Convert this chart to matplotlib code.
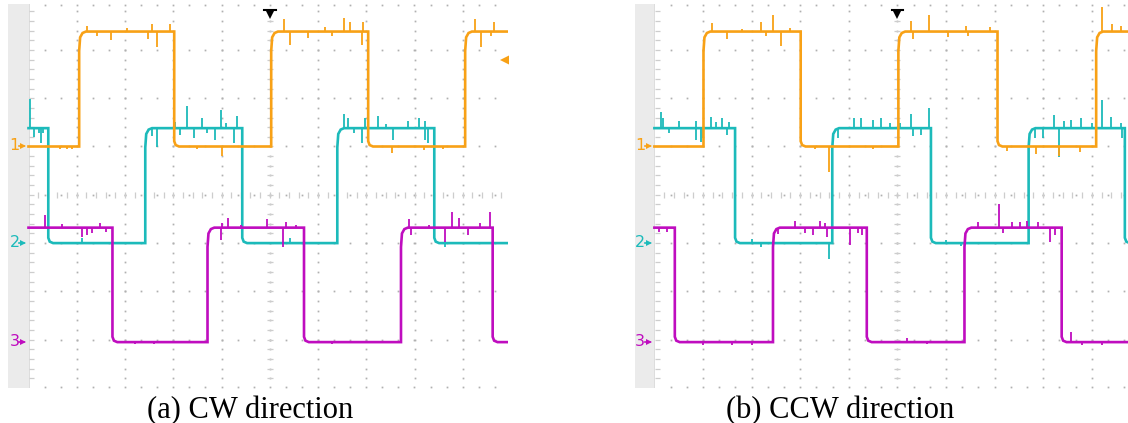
import numpy as np
import matplotlib
matplotlib.use("Agg")
import matplotlib.pyplot as plt

# ---------------- data (units: oscilloscope divisions) ----------------
# levels of the three channels
CH1_LEVELS = (5.0, 7.38)   # orange (low, high)
CH2_LEVELS = (3.0, 5.38)   # cyan
CH3_LEVELS = (0.95, 3.32)  # magenta

# (a) CW direction: start state and edge times
CW_CH1_START = 0
CW_CH1_EDGES = [1.05, 3.02, 5.03, 7.04, 9.05]
CW_CH2_START = 1
CW_CH2_EDGES = [0.41, 2.42, 4.43, 6.40, 8.41]
CW_CH3_START = 1
CW_CH3_EDGES = [1.74, 3.71, 5.71, 7.72, 9.62]

# (b) CCW direction
CCW_CH1_START = 0
CCW_CH1_EDGES = [1.01, 3.01, 5.02, 7.06, 9.09]
CCW_CH2_START = 1
CCW_CH2_EDGES = [1.66, 3.66, 5.69, 7.70, 9.68]
CCW_CH3_START = 1
CCW_CH3_EDGES = [0.42, 2.44, 4.37, 6.38, 8.38]

# noise spikes: (time, excursion)
CW_CH1_SPIKES = [(1.21, 0.12), (1.42, -0.10), (1.70, -0.17), (2.05, 0.08), (2.47, -0.15),
                 (2.56, 0.15), (2.66, -0.31), (2.94, 0.15), (5.29, 0.25), (5.42, -0.27),
                 (5.80, -0.13), (6.15, 0.10), (6.29, -0.10), (6.53, 0.29), (6.67, 0.20),
                 (6.91, -0.27), (6.93, 0.20), (9.25, 0.25), (9.38, -0.33), (9.59, -0.10),
                 (9.65, 0.20), (0.66, -0.05), (0.80, -0.06), (0.90, -0.05), (4.01, -0.20),
                 (3.50, -0.05), (7.53, -0.13), (8.20, -0.08), (8.60, -0.05)]
CW_CH2_SPIKES = [(0.04, 0.60), (0.11, -0.19), (0.21, -0.10), (0.25, -0.30), (0.30, -0.10),
                 (2.55, -0.15), (2.66, -0.40), (3.04, 0.12), (3.15, -0.15), (3.29, 0.46),
                 (3.42, -0.20), (3.60, 0.20), (3.70, -0.10), (3.87, -0.25), (3.98, 0.38),
                 (4.10, 0.10), (4.25, -0.30), (4.32, 0.25), (6.53, 0.30), (6.63, 0.22),
                 (6.75, -0.10), (6.91, -0.30), (6.98, 0.20), (7.25, 0.25), (7.40, 0.08),
                 (7.56, -0.25), (7.87, 0.15), (8.10, 0.20), (8.22, 0.15), (8.22, -0.25),
                 (8.29, -0.30), (1.11, 0.10), (5.42, 0.10), (8.63, -0.08)]
CW_CH3_SPIKES = [(0.35, 0.27), (0.70, 0.08), (1.11, -0.20), (1.21, -0.15), (1.32, -0.12),
                 (1.49, 0.10), (1.60, -0.10), (3.98, -0.25), (4.02, 0.10), (4.14, 0.19),
                 (4.40, 0.05), (4.94, 0.17), (5.27, -0.40), (5.33, 0.12), (5.55, 0.05),
                 (7.89, 0.17), (7.92, -0.15), (8.30, 0.05), (8.63, -0.30), (8.77, 0.33),
                 (8.93, 0.20), (9.10, -0.15), (9.35, 0.10), (9.57, 0.33),
                 (2.20, -0.04), (2.60, -0.04), (6.30, -0.04)]

CCW_CH1_SPIKES = [(1.18, 0.17), (1.50, -0.15), (1.80, 0.06), (2.20, 0.20), (2.30, -0.10),
                  (2.45, 0.35), (2.61, -0.30), (2.80, 0.08), (3.60, -0.52), (3.30, -0.05),
                  (4.50, -0.05), (5.28, 0.21), (5.33, -0.15), (5.65, 0.35), (6.05, -0.12),
                  (6.42, 0.12), (6.45, -0.10), (6.90, 0.10), (7.25, -0.10), (7.85, -0.15),
                  (8.32, -0.20), (8.75, -0.12), (9.22, 0.52), (9.42, 0.15), (9.60, 0.12)]
CCW_CH2_SPIKES = [(0.14, 0.33), (0.17, 0.20), (0.30, -0.10), (0.50, 0.15), (0.85, 0.15),
                  (0.86, -0.25), (0.96, -0.28), (1.00, -0.20), (1.16, 0.23), (1.27, 0.12),
                  (1.40, 0.20), (1.50, -0.15), (1.54, 0.12), (2.00, 0.08), (2.20, -0.08),
                  (3.60, -0.33), (3.78, -0.20), (4.10, 0.20), (4.25, 0.22), (4.50, 0.17),
                  (4.67, 0.22), (4.85, 0.10), (5.05, 0.10), (5.28, 0.30), (5.33, -0.17),
                  (5.48, -0.15), (5.64, 0.42), (6.00, 0.06), (6.30, -0.05), (7.83, -0.20),
                  (8.00, -0.20), (8.22, 0.27), (8.32, -0.60), (8.42, 0.15), (8.58, 0.17),
                  (8.78, 0.20), (9.00, 0.10), (9.20, 0.58), (9.40, 0.23), (9.60, 0.10),
                  (9.62, -0.20)]
CCW_CH3_SPIKES = [(0.10, -0.10), (0.25, -0.10), (2.55, -0.12), (2.90, 0.13), (3.10, -0.12),
                  (3.27, -0.15), (3.40, 0.13), (3.50, 0.10), (3.56, -0.20), (4.02, -0.35),
                  (4.18, -0.12), (4.27, -0.15), (1.00, -0.05), (1.60, -0.05), (2.00, -0.05),
                  (5.20, 0.08), (5.60, -0.04), (6.65, 0.12), (7.10, 0.48), (7.17, -0.12),
                  (7.35, 0.12), (7.52, 0.12), (7.66, 0.14), (7.90, 0.12), (8.14, -0.30),
                  (8.24, -0.15), (8.58, 0.20), (8.80, -0.05), (9.20, -0.05)]

CAPTIONS = ["(a) CW direction", "(b) CCW direction"]
CHANNEL_LABELS = ["1", "2", "3"]

# ---------------- style ----------------
ORANGE = "#f8a116"
CYAN = "#1cbaba"
MAGENTA = "#bf0dbf"
GRID = "#b0b0b0"
TICK = "#cdcdcd"
STRIP = "#ebebeb"

W, H = 1128, 423
fig = plt.figure(figsize=(W / 100, H / 100), dpi=100)
fig.patch.set_facecolor("white")

RISE = [(0.0, -0.40), (0.02, -0.12), (0.07, -0.03), (0.14, 0.0)]
FALL = [(0.0, 0.11), (0.03, 0.03), (0.10, 0.0)]


def waveform(start, edges, levels, xmax):
    lo, hi = levels
    state = start
    xs, ys = [0.0], [hi if state else lo]
    for e in edges:
        if state:  # falling
            xs.append(e); ys.append(hi)
            for dx, dy in FALL:
                xs.append(e + dx); ys.append(lo + dy)
        else:
            xs.append(e); ys.append(lo)
            for dx, dy in RISE:
                xs.append(e + dx); ys.append(hi + dy)
        state = 1 - state
    xs.append(xmax + 1); ys.append(hi if state else lo)
    return np.array(xs), np.array(ys)


def draw_panel(rect_px, x0_px, div_px, chans, caption, cap_x_px):
    left, right = rect_px
    top_px, bot_px = 4.0, 388.0
    ax = fig.add_axes([left / W, (H - bot_px) / H, (right - left) / W, (bot_px - top_px) / H])
    xmin = (left - x0_px) / div_px
    xmax = (right - x0_px) / div_px
    ytop = (bot_px - top_px) / 48.3
    ax.set_xlim(xmin, xmax)
    ax.set_ylim(0, ytop)
    ax.axis("off")

    # gray strip on the left
    ax.fill_between([xmin, 0], 0, ytop, color=STRIP, lw=0, zorder=0)
    ax.plot([0, 0], [0, ytop], color="#dcdcdc", lw=0.7, zorder=0.5)

    # graticule
    for gy in list(range(1, 8)) + [0.03, ytop - 0.03]:
        xs = np.arange(1 / 3, 10.01, 1 / 3)
        ax.plot(xs, np.full_like(xs, gy), ls="none", marker="s", ms=1.25, mew=0,
                color=GRID, zorder=1)
    for gx in range(1, 10):
        ys = np.arange(0.2, 7.99, 0.2)
        ax.plot(np.full_like(ys, gx), ys, ls="none", marker="s", ms=1.25, mew=0,
                color=GRID, zorder=1)
    t = np.arange(0.2, 10.01, 0.2)
    ax.vlines(t, 4 - 0.06, 4 + 0.06, color=TICK, lw=0.9, zorder=1)
    t = np.arange(0.2, 7.99, 0.2)
    ax.hlines(t, 5 - 0.06, 5 + 0.06, color=TICK, lw=0.9, zorder=1)
    ax.hlines(t, 0.02, 0.11, color=TICK, lw=0.9, zorder=1)

    # traces
    z = {0: 5, 1: 3, 2: 4}
    for i, (start, edges, levels, spikes, color) in enumerate(chans):
        xs, ys = waveform(start, edges, levels, xmax)
        ax.plot(xs, ys, color=color, lw=1.9, zorder=z[i], solid_joinstyle="miter")
        sx = np.array([s[0] for s in spikes])
        sd = np.array([s[1] for s in spikes])
        base = np.interp(sx, xs, ys)
        ax.vlines(sx, base, base + sd, color=color, lw=1.3, zorder=z[i])
        # channel marker
        ax.text(-0.29, levels[0] + 0.02, CHANNEL_LABELS[i], color=color, fontsize=11.5,
                ha="center", va="center", family="DejaVu Sans", zorder=6)
        ax.plot([-0.11], [levels[0]], marker=">", ms=5, color=color, mew=0, zorder=6)
        ax.plot([-0.19, -0.10], [levels[0], levels[0]], color=color, lw=1.2, zorder=6)

    # trigger position marker
    ax.plot([5], [ytop - 0.2], marker="v", ms=7.5, color="black", mew=0, zorder=7, clip_on=False)
    ax.plot([4.88, 5.12], [ytop - 0.12, ytop - 0.12], color="black", lw=1.5, zorder=7)

    fig.text(cap_x_px / W, (H - 418) / H, caption, ha="center", va="baseline",
             fontsize=22, family="Liberation Serif")
    return ax, xmax


axL, xmaxL = draw_panel((8, 508), 28.5, 48.25,
                        [(CW_CH1_START, CW_CH1_EDGES, CH1_LEVELS, CW_CH1_SPIKES, ORANGE),
                         (CW_CH2_START, CW_CH2_EDGES, CH2_LEVELS, CW_CH2_SPIKES, CYAN),
                         (CW_CH3_START, CW_CH3_EDGES, CH3_LEVELS, CW_CH3_SPIKES, MAGENTA)],
                        CAPTIONS[0], 250.5)
# trigger level marker (left panel)
axL.plot([xmaxL - 0.04], [6.79], marker="<", ms=8, color=ORANGE, mew=0, zorder=7)

axR, xmaxR = draw_panel((635, 1128), 654.4, 48.6,
                        [(CCW_CH1_START, CCW_CH1_EDGES, CH1_LEVELS, CCW_CH1_SPIKES, ORANGE),
                         (CCW_CH2_START, CCW_CH2_EDGES, CH2_LEVELS, CCW_CH2_SPIKES, CYAN),
                         (CCW_CH3_START, CCW_CH3_EDGES, CH3_LEVELS, CCW_CH3_SPIKES, MAGENTA)],
                        CAPTIONS[1], 840)

fig.savefig("out.png", dpi=100, facecolor="white")
